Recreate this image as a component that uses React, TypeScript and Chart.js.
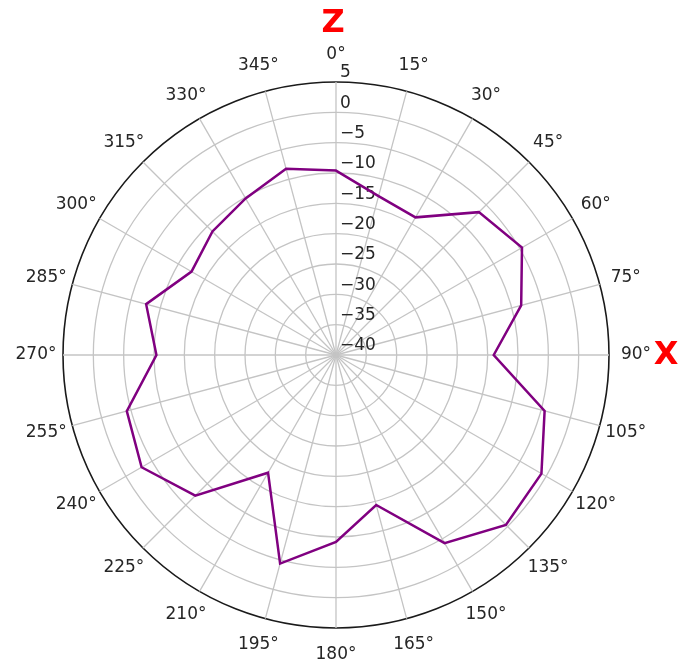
import React, { useEffect, useRef } from "react";
import { Chart, registerables } from "chart.js";

Chart.register(...registerables);

const angleLabels = [
  "0°", "15°", "30°", "45°", "60°", "75°", "90°", "105°", "120°", "135°", "150°", "165°",
  "180°", "195°", "210°", "225°", "240°", "255°", "270°", "285°", "300°", "315°", "330°", "345°",
];

const gainValues = [
  -9.6, -12.9, -13.8, -6.7, -4.6, -8.4, -14.0, -4.4, -0.9, -0.4, -4.2, -14.4,
  -9.2, -4.4, -17.6, -7.2, -3.0, -4.3, -10.4, -7.6, -12.5, -11.2, -10.2, -8.2,
];

const radialTicks = [5, 0, -5, -10, -15, -20, -25, -30, -35, -40];
const rMin = -40;
const rMax = 5;
const axisTitleTop = "Z";
const axisTitleRight = "X";

const FONT = '"DejaVu Sans", sans-serif';

const fmt = (v: number) => (v < 0 ? "\u2212" + Math.abs(v) : String(v));

const overlayPlugin = {
  id: "overlay",
  beforeDatasetsDraw(chart: any) {
    const s = chart.scales.r;
    const ctx = chart.ctx;
    ctx.save();
    ctx.font = `17px ${FONT}`;
    ctx.fillStyle = "#262626";
    ctx.textAlign = "left";
    ctx.textBaseline = "middle";
    radialTicks.forEach((v) => {
      const d = s.getDistanceFromCenterForValue(v);
      ctx.fillText(fmt(v), s.xCenter + 4, s.yCenter - d - 9);
    });
    ctx.restore();
  },
  afterDraw(chart: any) {
    const s = chart.scales.r;
    const ctx = chart.ctx;
    ctx.save();
    ctx.font = `17px ${FONT}`;
    ctx.fillStyle = "#262626";
    ctx.textAlign = "center";
    ctx.textBaseline = "middle";
    angleLabels.forEach((lab, i) => {
      const p = s.getPointPosition(i, s.drawingArea + 27);
      ctx.fillText(lab, p.x, p.y);
    });
    ctx.font = `bold 32px ${FONT}`;
    ctx.fillStyle = "#ff0000";
    ctx.fillText(axisTitleTop, s.xCenter - 3, s.yCenter - s.drawingArea - 58);
    ctx.fillText(axisTitleRight, s.xCenter + s.drawingArea + 57, s.yCenter + 1);
    ctx.restore();
  },
};

export default function App() {
  const ref = useRef<HTMLCanvasElement | null>(null);
  useEffect(() => {
    if (!ref.current) return;
    const chart = new Chart(ref.current, {
      type: "radar",
      data: {
        labels: angleLabels,
        datasets: [
          {
            data: gainValues,
            borderColor: "#800080",
            borderWidth: 2.5,
            fill: false,
            pointRadius: 0,
            tension: 0,
          },
        ],
      },
      options: {
        responsive: false,
        animation: false,
        layout: { padding: { left: 63, top: 82, right: 85, bottom: 40 } },
        plugins: { legend: { display: false }, tooltip: { enabled: false } },
        scales: {
          r: {
            min: rMin,
            max: rMax,
            ticks: { stepSize: 5, display: false },
            pointLabels: { display: false },
            grid: {
              circular: true,
              color: (c: any) => (c.tick && c.tick.value === rMax ? "#1a1a1a" : "#c4c4c4"),
              lineWidth: (c: any) => (c.tick && c.tick.value === rMax ? 1.6 : 1.3),
            },
            angleLines: { color: "#c4c4c4", lineWidth: 1.3 },
          },
        },
      },
      plugins: [overlayPlugin],
    });
    return () => chart.destroy();
  }, []);
  return (
    <div style={{ position: "absolute", left: 0, top: 0, width: 694, height: 668, background: "#fff" }}>
      <canvas ref={ref} width={694} height={668} />
    </div>
  );
}
